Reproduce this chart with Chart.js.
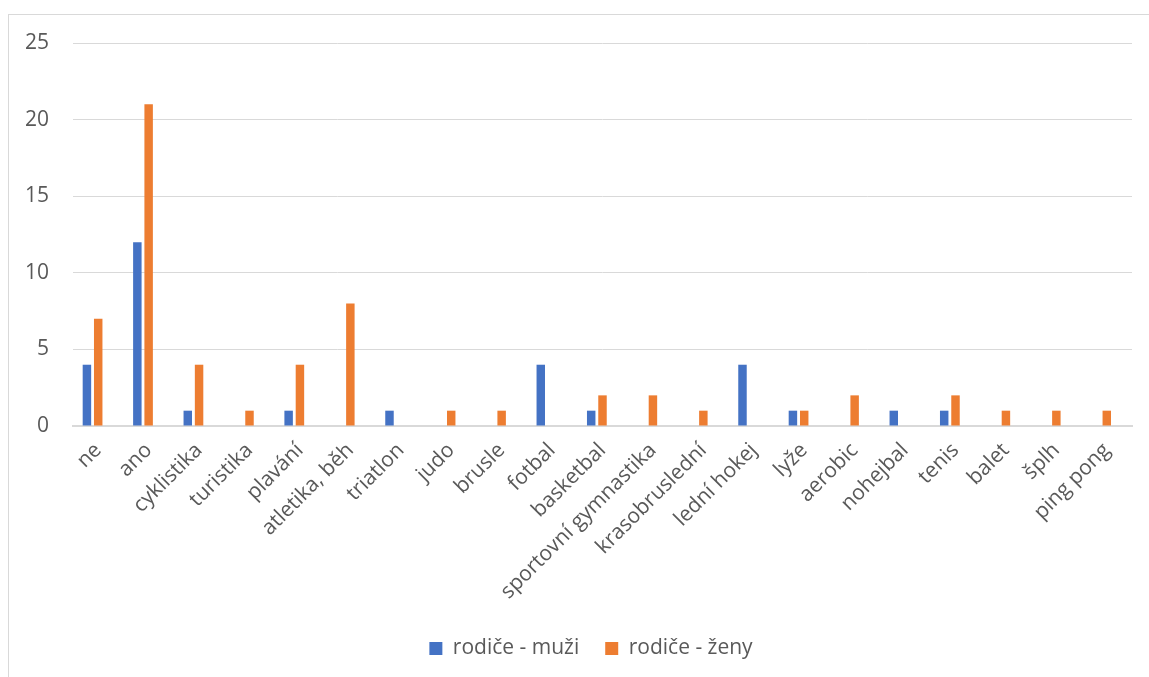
<!DOCTYPE html>
<html>
<head>
<meta charset="utf-8">
<script src="https://cdn.jsdelivr.net/npm/chart.js@4.4.1/dist/chart.umd.min.js"></script>
<style>
  html, body { margin: 0; padding: 0; background: #fff; overflow: hidden; }
  #frame { position: absolute; left: 8px; top: 14px; width: 1160px; height: 700px; border: 1px solid #d9d9d9; box-sizing: border-box; }
  #c { position: absolute; left: 0; top: 0; }
</style>
</head>
<body>
<div id="frame"></div>
<canvas id="c" width="1149" height="677"></canvas>
<script>
// Sports done by parents, counts per answer
const categories = ['ne', 'ano', 'cyklistika', 'turistika', 'plavání', 'atletika, běh', 'triatlon', 'judo', 'brusle', 'fotbal', 'basketbal', 'sportovní gymnastika', 'krasobruslední', 'lední hokej', 'lyže', 'aerobic', 'nohejbal', 'tenis', 'balet', 'šplh', 'ping pong'];
const muzi  = [4, 12, 1, 0, 1, 0, 1, 0, 0, 4, 1, 0, 0, 4, 1, 0, 1, 1, 0, 0, 0];
const zeny  = [7, 21, 4, 1, 4, 8, 0, 1, 1, 0, 2, 2, 1, 0, 1, 2, 0, 2, 1, 1, 1];
const yTicks = [0, 5, 10, 15, 20, 25];

const FONT = "'Open Sans', sans-serif";
const GREY = '#595959';

// the legend sits centred on the whole frame, a little right of the plot centre
const legendShift = {
  id: 'legendShift',
  afterLayout(chart) {
    const lg = chart.legend;
    if (lg) { lg.left += 25; lg.right += 25; }
  }
};

new Chart(document.getElementById('c'), {
  type: 'bar',
  data: {
    labels: categories,
    datasets: [
      { label: 'rodiče - muži', data: muzi, backgroundColor: '#4472C4' },
      { label: 'rodiče - ženy', data: zeny, backgroundColor: '#ED7D31' },
      // empty third series slot of the source workbook
      { label: '', data: [], backgroundColor: 'rgba(0,0,0,0)' }
    ]
  },
  plugins: [legendShift],
  options: {
    responsive: false,
    animation: false,
    devicePixelRatio: 1,
    layout: { padding: { left: 0, right: 17, top: 43, bottom: 8 } },
    datasets: { bar: { categoryPercentage: 0.672, barPercentage: 0.75 } },
    plugins: {
      tooltip: { enabled: false },
      legend: {
        position: 'bottom',
        labels: {
          filter: item => item.text !== '',
          boxWidth: 13, boxHeight: 13,
          padding: 26,
          color: GREY,
          font: { family: FONT, size: 21 }
        }
      }
    },
    scales: {
      x: {
        grid: { display: false },
        border: { color: '#d9d9d9', width: 2 },
        ticks: {
          color: GREY, font: { family: FONT, size: 21 },
          minRotation: 45, maxRotation: 45, autoSkip: false, padding: 4
        },
        afterFit: s => { s.height = 186; }
      },
      y: {
        min: 0, max: 25,
        afterBuildTicks: s => { s.ticks = yTicks.map(v => ({ value: v })); },
        grid: { color: '#d9d9d9', lineWidth: 1, drawTicks: false },
        border: { display: false },
        ticks: { color: GREY, font: { family: FONT, size: 21 }, padding: 24 },
        afterFit: s => { s.width = 73; }
      }
    }
  }
});
</script>
</body>
</html>
